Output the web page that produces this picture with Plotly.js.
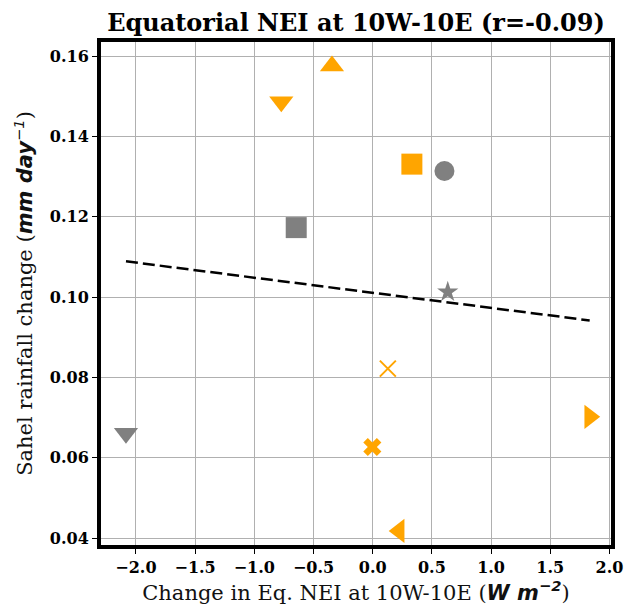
<!DOCTYPE html>
<html>
<head>
<meta charset="utf-8">
<script src="https://cdn.plot.ly/plotly-3.0.1.min.js"></script>
<style>html,body{margin:0;padding:0;background:#fff;}#chart{width:626px;height:606px;}</style>
</head>
<body>
<div id="chart"></div>
<script>
// Orange group
const orangeX = [-0.344, -0.772, 0.331, 0.128, -0.003, 1.833, 0.224];
const orangeY = [0.1575, 0.1486, 0.1331, 0.0822, 0.0627, 0.0702, 0.0418];
// Gray group
const grayX = [0.606, -0.646, 0.634, -2.084];
const grayY = [0.1314, 0.1173, 0.1013, 0.0661];

const titleText = 'Equatorial NEI at 10W-10E (r=-0.09)';
const xTitle = 'Change in Eq. NEI at 10W-10E (<span style="font-family:DejaVu Sans"><b><i>W m</i></b><sup><b><i>−2</i></b></sup></span>)';
const yTitle = 'Sahel rainfall change (<span style="font-family:DejaVu Sans"><b><i>mm day</i></b><sup><i>−1</i></sup></span>)';

// styles
const orangeSymbols = ['triangle-up', 'triangle-down', 'square', 'x-thin-open', 'x', 'triangle-right', 'triangle-left'];
const orangeSizes = [21, 21, 21, 16, 16, 21, 21];
const graySymbols = ['circle', 'square', 'star', 'triangle-down'];
const graySizes = [20, 21, 16, 21];

// least-squares fit over all points
const allX = orangeX.concat(grayX), allY = orangeY.concat(grayY);
const n = allX.length;
const mx = allX.reduce((a, b) => a + b, 0) / n, my = allY.reduce((a, b) => a + b, 0) / n;
let sxy = 0, sxx = 0;
for (let i = 0; i < n; i++) { sxy += (allX[i] - mx) * (allY[i] - my); sxx += (allX[i] - mx) ** 2; }
const slope = sxy / sxx, icpt = my - slope * mx;
const xmin = Math.min(...allX), xmax = Math.max(...allX);

const traces = [
  {x: [xmin, xmax], y: [icpt + slope * xmin, icpt + slope * xmax], mode: 'lines',
   line: {color: 'black', width: 2.5, dash: '12px,5px'}, hoverinfo: 'skip'},
  {x: orangeX, y: orangeY, mode: 'markers',
   marker: {symbol: orangeSymbols, size: orangeSizes, color: '#FFA500', opacity: 1,
            line: {color: '#FFA500', width: [0, 0, 0, 2, 0, 0, 0]}}},
  {x: grayX, y: grayY, mode: 'markers',
   marker: {symbol: graySymbols, size: graySizes, color: '#808080', opacity: 1, line: {width: 0}}}
];

const tickFont = {family: 'DejaVu Serif', size: 16, weight: 'bold', color: 'black'};
const layout = {
  width: 626, height: 606,
  margin: {l: 101, r: 15, t: 42, b: 61},
  paper_bgcolor: 'white', plot_bgcolor: 'white',
  showlegend: false,
  title: {text: titleText, font: {family: 'DejaVu Serif', size: 24, weight: 'bold', color: 'black'},
          x: 0.5, xref: 'paper', y: 0.962, yref: 'container', yanchor: 'middle'},
  xaxis: {range: [-2.295, 2.013], tickvals: [-2, -1.5, -1, -0.5, 0, 0.5, 1, 1.5, 2], tickformat: '.1f',
          showgrid: true, gridcolor: '#b0b0b0', gridwidth: 1, zeroline: false,
          showline: true, linecolor: 'black', linewidth: 4, mirror: true,
          ticks: 'outside', ticklen: 5, tickwidth: 1, tickcolor: 'black', tickfont: tickFont,
          title: {text: xTitle, font: {family: 'DejaVu Serif', size: 21, color: '#111'}, standoff: 9}},
  yaxis: {range: [0.0383, 0.1635], tickvals: [0.04, 0.06, 0.08, 0.10, 0.12, 0.14, 0.16], tickformat: '.2f',
          showgrid: true, gridcolor: '#b0b0b0', gridwidth: 1, zeroline: false,
          showline: true, linecolor: 'black', linewidth: 4, mirror: true,
          ticks: 'outside', ticklen: 5, tickwidth: 1, tickcolor: 'black', tickfont: tickFont,
          title: {text: yTitle, font: {family: 'DejaVu Serif', size: 21, color: '#111'}, standoff: 12}}
};
Plotly.newPlot('chart', traces, layout, {displayModeBar: false, staticPlot: true});
</script>
</body>
</html>
